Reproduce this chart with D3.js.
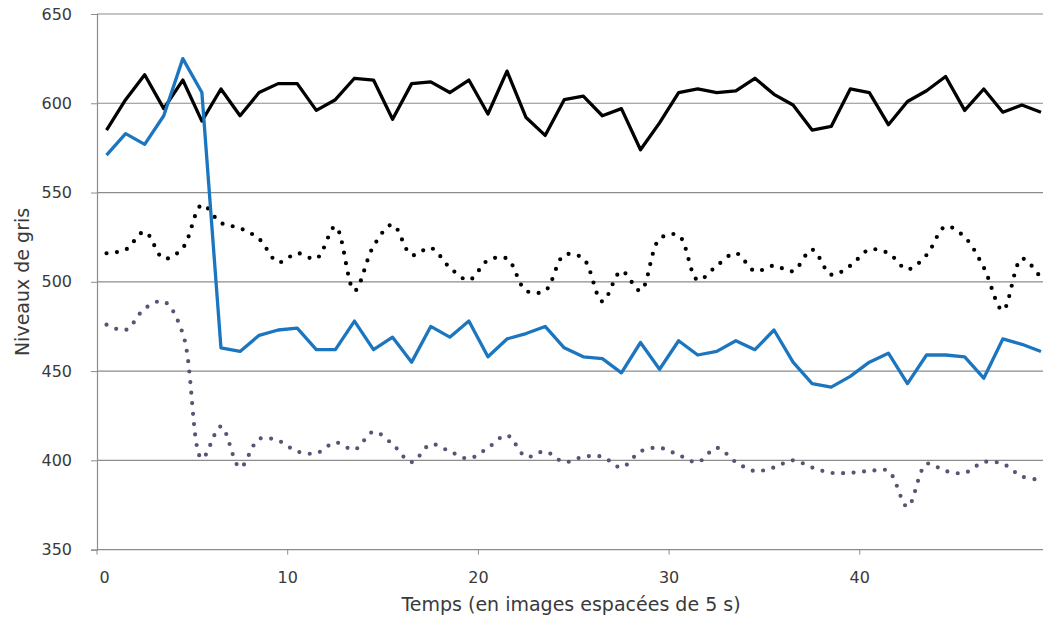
<!DOCTYPE html>
<html><head><meta charset="utf-8">
<script src="https://cdn.jsdelivr.net/npm/d3@7"></script>
<style>body{margin:0;background:#fff}svg{display:block}</style>
</head><body>
<svg id="c" width="1043" height="619"></svg>
<script>
const categories = d3.range(0, 50);
const xTickLabels = [0, 10, 20, 30, 40];
const yTicks = [350, 400, 450, 500, 550, 600, 650];
const blackSolid = [585,602,616,597,613,590,608,593,606,611,611,596,602,614,613,591,611,612,606,613,594,618,592,582,602,604,593,597,574,589,606,608,606,607,614,605,599,585,587,608,606,588,601,607,615,596,608,595,599,595];
const blueSolid = [571,583,577,593,625,606,463,461,470,473,474,462,462,478,462,469,455,475,469,478,458,468,471,475,463,458,457,449,466,451,467,459,461,467,462,473,455,443,441,447,455,460,443,459,459,458,446,468,465,461];
const blackDotted = [516,518,528,513,519,543,533,530,524,511,516,513,531,495,520,532,515,519,508,501,512,513,495,495,515,513,489,506,495,524,526,501,509,516,506,509,506,518,504,509,518,516,507,515,531,525,508,484,513,502];
const purpleDotted = [476,473,485,489,471,401,419,396,412,411,405,404,410,406,416,409,399,409,405,401,407,414,402,405,399,402,402,396,405,407,403,399,407,399,394,396,400,396,393,393,394,394,374,398,394,393,399,398,391,389];

(function(){
const svg = d3.select("#c");
const mLeft = 97, mTop = 14, mBottom = 549.6, step = 19.07;
const x = d3.scaleBand().domain(categories).range([mLeft, mLeft + step * categories.length]);
const cx = d => x(d) + x.bandwidth() / 2;
const y = d3.scaleLinear().domain([350, 650]).range([mBottom, mTop]);
const font = "DejaVu Sans";

svg.append("defs").append("clipPath").attr("id","clip")
  .append("rect").attr("x", mLeft).attr("y", 0).attr("width", 1043 - mLeft).attr("height", 619);

svg.append("g").selectAll("line").data(yTicks.filter(t => t > 350)).join("line")
  .attr("x1", mLeft).attr("x2", 1043).attr("y1", d => y(d)).attr("y2", d => y(d))
  .attr("stroke", "#8c8c8c").attr("stroke-width", 1.2);

const yAxis = svg.append("g").attr("transform", `translate(${mLeft},0)`)
  .call(d3.axisLeft(y).tickValues(yTicks).tickSize(6).tickPadding(19));
yAxis.select(".domain").attr("stroke", "#8c8c8c").attr("stroke-width", 1.2);
yAxis.selectAll(".tick line").attr("stroke", "#8c8c8c");
yAxis.selectAll("text").attr("font-family", font).attr("font-size", 16).attr("fill", "#3a3a3a");

// x axis: labels sit on the category boundaries (Excel style), first label nudged inward
const xAxis = svg.append("g").attr("transform", `translate(0,${mBottom})`);
xAxis.append("line").attr("x1", mLeft).attr("x2", 1043).attr("y1", 0).attr("y2", 0)
  .attr("stroke", "#8c8c8c").attr("stroke-width", 1.2);
xAxis.selectAll("line.tk").data(xTickLabels).join("line").attr("class","tk")
  .attr("x1", d => x(d)).attr("x2", d => x(d)).attr("y1", 0).attr("y2", 5).attr("stroke", "#8c8c8c");
xAxis.selectAll("text").data(xTickLabels).join("text")
  .attr("x", d => d === 0 ? cx(d) - 2 : x(d)).attr("y", 33).attr("text-anchor", "middle")
  .attr("font-family", font).attr("font-size", 16).attr("fill", "#3a3a3a").text(d => d);

const plot = svg.append("g").attr("clip-path", "url(#clip)");
const straight = d3.line().x((d, i) => cx(categories[i])).y(d => y(d));
const smooth = d3.line().x((d, i) => cx(categories[i])).y(d => y(d)).curve(d3.curveCatmullRom.alpha(0.5));

plot.append("path").datum(purpleDotted).attr("d", smooth).attr("fill", "none")
  .attr("stroke", "#5d5275").attr("stroke-width", 4.2).attr("stroke-linecap", "round").attr("stroke-dasharray", "0 10.5");
plot.append("path").datum(blackDotted).attr("d", smooth).attr("fill", "none")
  .attr("stroke", "#000").attr("stroke-width", 4.2).attr("stroke-linecap", "round").attr("stroke-dasharray", "0 10.5");
plot.append("path").datum(blackSolid).attr("d", straight).attr("fill", "none")
  .attr("stroke", "#000").attr("stroke-width", 3.3).attr("stroke-linejoin", "round");
plot.append("path").datum(blueSolid).attr("d", straight).attr("fill", "none")
  .attr("stroke", "#1b76bf").attr("stroke-width", 3.3).attr("stroke-linejoin", "round");

svg.append("text").attr("x", 571).attr("y", 611).attr("text-anchor", "middle")
  .attr("font-family", font).attr("font-size", 19).attr("fill", "#3a3a3a")
  .text("Temps (en images espacées de 5 s)");
svg.append("text").attr("transform", "translate(29,282) rotate(-90)").attr("text-anchor", "middle")
  .attr("font-family", font).attr("font-size", 19).attr("fill", "#3a3a3a")
  .text("Niveaux de gris");
})();
</script>
</body></html>
